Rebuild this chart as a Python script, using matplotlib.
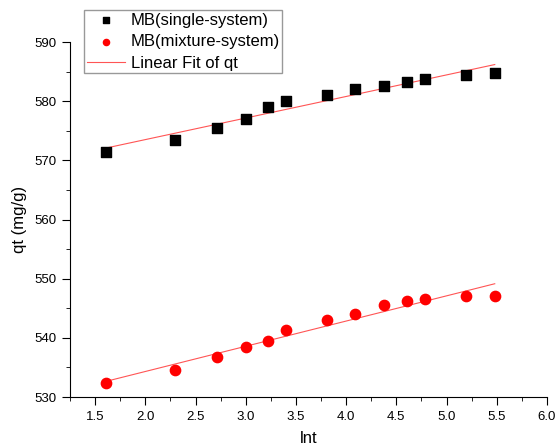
import numpy as np
import matplotlib
matplotlib.use("Agg")
import matplotlib.pyplot as plt
from matplotlib.ticker import MultipleLocator

plt.rcParams['font.family'] = ['Liberation Sans', 'DejaVu Sans']

lnt = [1.61, 2.30, 2.71, 3.00, 3.22, 3.40, 3.81, 4.09, 4.38, 4.61, 4.79, 5.19, 5.48]
q_single = [571.4, 573.5, 575.4, 577.0, 579.0, 580.1, 581.1, 582.0, 582.5, 583.3, 583.7, 584.4, 584.7]
q_mixture = [532.3, 534.5, 536.8, 538.4, 539.4, 541.4, 543.0, 544.1, 545.5, 546.3, 546.6, 547.0, 547.1]

fig = plt.figure(figsize=(5.57, 4.48), dpi=100)
ax = fig.add_axes([0.1257, 0.1138, 0.8563, 0.7922])

x = np.array(lnt)
ax.scatter(x, q_single, marker='s', s=50, color='black', label='MB(single-system)', zorder=3)
ax.scatter(x, q_mixture, marker='o', s=55, color='red', label='MB(mixture-system)', zorder=3)

xf = np.array([x.min(), x.max()])
for ys, lab in [(q_single, 'Linear Fit of qt'), (q_mixture, None)]:
    p = np.polyfit(x, ys, 1)
    ax.plot(xf, np.polyval(p, xf), color='#ff5555', lw=0.8, label=lab, zorder=2)

ax.set_xlim(1.25, 6.0)
ax.set_ylim(530, 590)
ax.xaxis.set_major_locator(MultipleLocator(0.5))
ax.xaxis.set_minor_locator(MultipleLocator(0.25))
ax.yaxis.set_major_locator(MultipleLocator(10))
ax.yaxis.set_minor_locator(MultipleLocator(5))
for s in ['top', 'right']:
    ax.spines[s].set_visible(False)
ax.tick_params(which='major', direction='out', length=6, labelsize=9.5, pad=4)
ax.tick_params(which='minor', direction='out', length=3)
ax.set_xlabel('lnt', fontsize=12, labelpad=6)
ax.set_ylabel('qt (mg/g)', fontsize=12, labelpad=5)

leg = ax.legend(loc='upper left', bbox_to_anchor=(84/557, 1 - 10/448), bbox_transform=fig.transFigure,
                fontsize=12, frameon=True, fancybox=False, borderpad=0.15, labelspacing=0.4,
                handletextpad=0.35, borderaxespad=0, handlelength=2.3, markerscale=0.6)
leg.get_frame().set_edgecolor('#808080')
leg.get_frame().set_linewidth(1.0)

fig.savefig('out.png', dpi=100)
